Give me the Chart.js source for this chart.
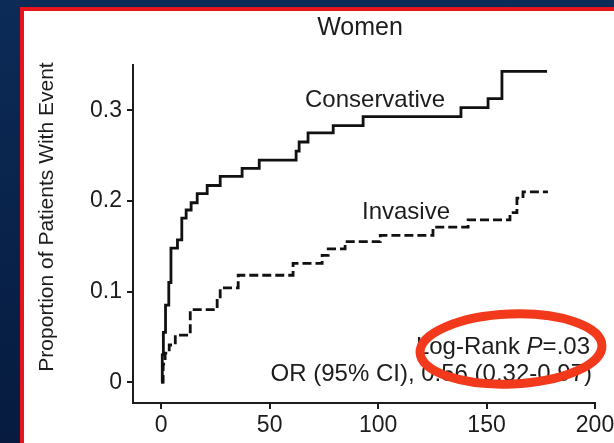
<!DOCTYPE html>
<html>
<head>
<meta charset="utf-8">
<script src="https://cdn.jsdelivr.net/npm/chart.js@4.4.1/dist/chart.umd.min.js"></script>
<style>
  html, body {
    margin: 0; padding: 0; width: 614px; height: 443px; overflow: hidden;
    background: linear-gradient(180deg, #0c2b57 0%, #061b3f 100%);
  }
  #panel {
    position: absolute; left: 20px; top: 7px; width: 640px; height: 470px;
    background: #fff; border-left: 4px solid #e8141c; border-top: 4px solid #e8141c;
  }
  #c { position: absolute; left: 0; top: 0; width: 614px; height: 443px; }
</style>
</head>
<body>
<div id="panel"></div>
<canvas id="c" width="614" height="443"></canvas>
<script>
// Cumulative event proportion (Kaplan-Meier style steps), women
const conservativeDays  = [0, 0.5, 1.0, 2.0, 3.5, 4.5, 7.5, 9.5, 11.5, 13.8, 16.6, 21.2, 27.2, 37.3, 45.2, 62.2, 63.6, 67.7, 79.3, 93.1, 138.2, 150.7, 157.1, 177.9];
const conservativeRates = [0, 0.03, 0.055, 0.085, 0.11, 0.148, 0.157, 0.181, 0.19, 0.198, 0.208, 0.217, 0.227, 0.236, 0.245, 0.255, 0.265, 0.275, 0.283, 0.293, 0.303, 0.313, 0.343, 0.343];

const invasiveDays  = [0, 0.9, 1.8, 3.7, 6.5, 13.4, 25.8, 27.2, 35.5, 60.8, 74.2, 77.0, 84.8, 101.0, 125.3, 141.5, 160.8, 164.0, 166.8, 178.3];
const invasiveRates = [0, 0.02, 0.032, 0.041, 0.052, 0.08, 0.092, 0.104, 0.118, 0.131, 0.14, 0.147, 0.155, 0.162, 0.171, 0.179, 0.187, 0.203, 0.21, 0.21];

const xTickValues = [0, 50, 100, 150, 200];
const yTickValues = [0, 0.1, 0.2, 0.3];

const FONT = '"Liberation Sans", Arial, Helvetica, sans-serif';
const INK = '#1c1c1c';

const toPoints = (xs, ys) => xs.map((x, i) => ({ x: x, y: ys[i] }));

// Text labels, statistics and the highlight ring
const annotations = {
  id: 'annotations',
  afterDraw(chart) {
    const ctx = chart.ctx;
    ctx.save();
    ctx.fillStyle = INK;
    ctx.textBaseline = 'middle';

    ctx.font = '25px ' + FONT;
    ctx.textAlign = 'center';
    ctx.fillText('Women', 360, 28);

    ctx.save();
    ctx.translate(47, 217);
    ctx.rotate(-Math.PI / 2);
    ctx.font = '21px ' + FONT;
    ctx.fillText('Proportion of Patients With Event', 0, 0);
    ctx.restore();

    ctx.font = '24px ' + FONT;
    ctx.textAlign = 'left';
    ctx.fillText('Conservative', 305, 100);
    ctx.fillText('Invasive', 362, 212);

    // Log-rank line with italic P
    ctx.textAlign = 'right';
    let xr = 590;
    ctx.font = '24px ' + FONT;
    ctx.fillText('=.03', xr, 347);
    xr -= ctx.measureText('=.03').width;
    ctx.font = 'italic 24px ' + FONT;
    ctx.fillText('P', xr, 347);
    xr -= ctx.measureText('P').width;
    ctx.font = '24px ' + FONT;
    ctx.fillText('Log-Rank ', xr, 347);

    ctx.fillText('OR (95% CI), 0.56 (0.32-0.97)', 592, 374);

    ctx.beginPath();
    ctx.ellipse(511, 349, 91, 35, -0.04, 0, Math.PI * 2);
    ctx.strokeStyle = '#f2391c';
    ctx.lineWidth = 9;
    ctx.stroke();
    ctx.restore();
  }
};

const axisCommon = {
  grid: { display: true, drawOnChartArea: false, drawTicks: true, tickLength: 6, color: INK, lineWidth: 2 },
  border: { display: true, color: INK, width: 2 },
};

new Chart(document.getElementById('c'), {
  type: 'line',
  data: {
    datasets: [
      {
        label: 'Conservative',
        data: toPoints(conservativeDays, conservativeRates),
        stepped: true,
        borderColor: '#111',
        borderWidth: 2.8,
        pointRadius: 0,
        fill: false
      },
      {
        label: 'Invasive',
        data: toPoints(invasiveDays, invasiveRates),
        stepped: true,
        borderColor: '#111',
        borderWidth: 2.8,
        borderDash: [9, 4],
        pointRadius: 0,
        fill: false
      }
    ]
  },
  options: {
    responsive: false,
    animation: false,
    layout: { padding: { top: 65, right: 19, bottom: 0, left: 0 } },
    plugins: { legend: { display: false }, tooltip: { enabled: false }, title: { display: false } },
    scales: {
      x: Object.assign({}, axisCommon, {
        type: 'linear',
        min: -13,
        max: 200,
        afterBuildTicks: s => { s.ticks = xTickValues.map(v => ({ value: v })); },
        afterFit: s => { s.height = 40; s.paddingLeft = 0; s.paddingRight = 0; },
        ticks: { font: { family: FONT, size: 23 }, color: INK, padding: 3, maxRotation: 0, autoSkip: false }
      }),
      y: Object.assign({}, axisCommon, {
        type: 'linear',
        min: -0.023,
        max: 0.35,
        afterBuildTicks: s => { s.ticks = yTickValues.map(v => ({ value: v })); },
        afterFit: s => { s.width = 133; s.paddingTop = 0; s.paddingBottom = 0; },
        ticks: {
          font: { family: FONT, size: 23 }, color: INK, padding: 5, autoSkip: false,
          callback: v => (v === 0 ? '0' : v.toFixed(1))
        }
      })
    }
  },
  plugins: [annotations]
});
</script>
</body>
</html>
